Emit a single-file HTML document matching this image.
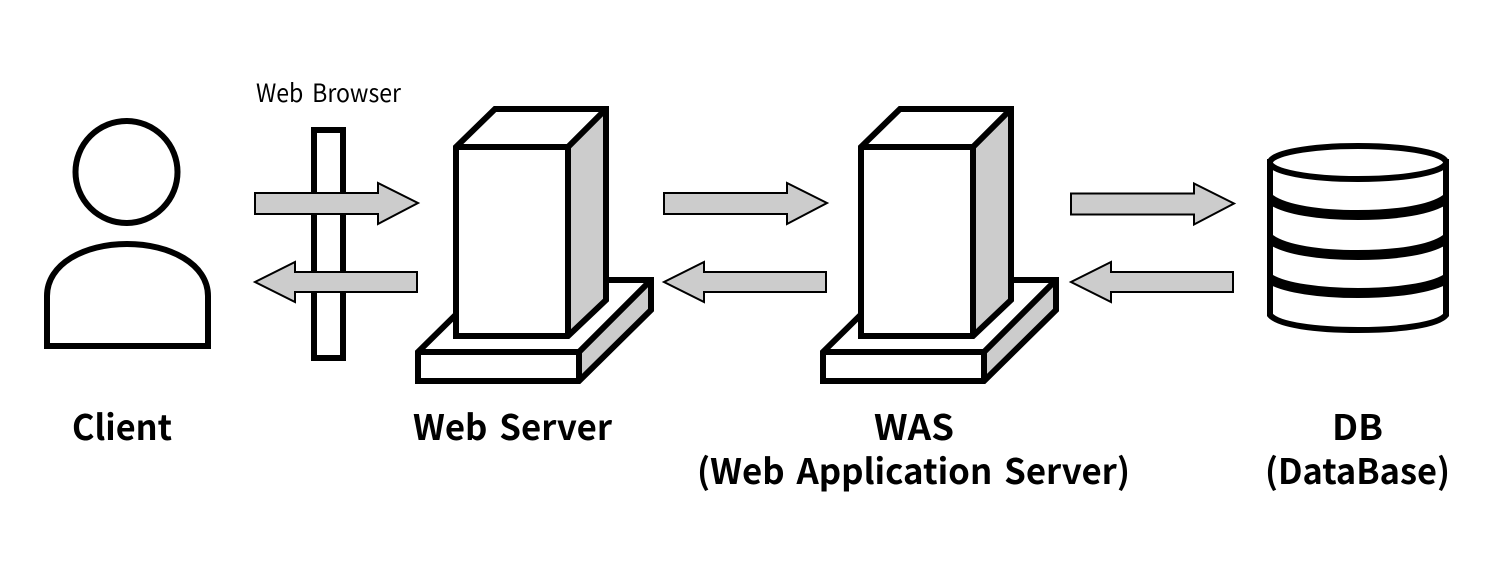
<!DOCTYPE html>
<html><head><meta charset="utf-8"><style>
html,body{margin:0;padding:0;background:#fff;width:1500px;height:570px;overflow:hidden}
svg{display:block}
text{font-family:"Noto Sans CJK KR","Liberation Sans",sans-serif;fill:#000;word-spacing:4px}
.b{font-weight:700;font-size:35px}
</style></head><body>
<svg width="1500" height="570" viewBox="0 0 1500 570" xmlns="http://www.w3.org/2000/svg">
<defs>
<g id="srv" stroke-linejoin="miter">
<path d="M418 352L491 280H651V310L579 381H418Z" fill="#fff" stroke="none"/>
<path d="M579 352L651 280V310L579 381Z" fill="#ccc" stroke="none"/>
<path d="M418 352L491 280H651V310L579 381H418Z" fill="none" stroke="#000" stroke-width="6"/>
<path d="M418 352H579V381M579 352L651 280" fill="none" stroke="#000" stroke-width="6"/>
<path d="M456 147L495 109H606V300L568 336H456Z" fill="#fff" stroke="none"/>
<path d="M568 147L606 109V300L568 336Z" fill="#ccc" stroke="none"/>
<path d="M456 147L495 109H606V300L568 336H456Z" fill="none" stroke="#000" stroke-width="6"/>
<path d="M456 147H568V336M568 147L606 109" fill="none" stroke="#000" stroke-width="6"/>
</g>
<path id="ar" d="M255 193H378V183L418 203L378 224V214H255Z" fill="#ccc" stroke="#000" stroke-width="2"/>
<path id="al" d="M417 272H295V262L255 282L295 302V292H417Z" fill="#ccc" stroke="#000" stroke-width="2"/>
</defs>

<circle cx="126.500" cy="172" r="51" fill="#fff" stroke="#000" stroke-width="6"/>
<path d="M47 346V296C47 264 84 244 127 244C170 244 208 264 208 296V346Z" fill="#fff" stroke="#000" stroke-width="6"/>

<rect x="314" y="130" width="29" height="228" fill="#fff" stroke="#000" stroke-width="6"/>
<use href="#ar"/><use href="#al"/>
<use href="#srv"/>
<use href="#srv" x="405"/>
<use href="#ar" x="409"/><use href="#al" x="409"/>
<use href="#ar" x="816" y="0.500"/><use href="#al" x="816"/>

<g fill="#fff" stroke="#000" stroke-width="6">
<path d="M1270 162V315C1278 325 1316 330 1358 330C1400 330 1438 325 1446 315V162Z"/>
<ellipse cx="1358" cy="162.500" rx="88" ry="16.500"/>
</g>
<g fill="none" stroke="#000" stroke-width="10">
<path d="M1270 199C1285 210 1320 215 1358 215C1396 215 1431 210 1446 199"/>
<path d="M1270 239C1285 250 1320 255 1358 255C1396 255 1431 250 1446 239"/>
<path d="M1270 279C1285 288 1320 293 1358 293C1396 293 1431 288 1446 279"/>
</g>

<text x="256" y="102" font-size="25" textLength="145" lengthAdjust="spacingAndGlyphs">Web Browser</text>
<text class="b" x="72" y="440" textLength="100" lengthAdjust="spacingAndGlyphs">Client</text>
<text class="b" x="413" y="440" textLength="199" lengthAdjust="spacingAndGlyphs">Web Server</text>
<text class="b" x="874" y="440" textLength="80" lengthAdjust="spacingAndGlyphs">WAS</text>
<text class="b" x="697" y="484" textLength="433" lengthAdjust="spacingAndGlyphs">(Web Application Server)</text>
<text class="b" x="1332" y="440" textLength="51" lengthAdjust="spacingAndGlyphs">DB</text>
<text class="b" x="1265" y="484" textLength="185" lengthAdjust="spacingAndGlyphs">(DataBase)</text>
</svg>
</body></html>
